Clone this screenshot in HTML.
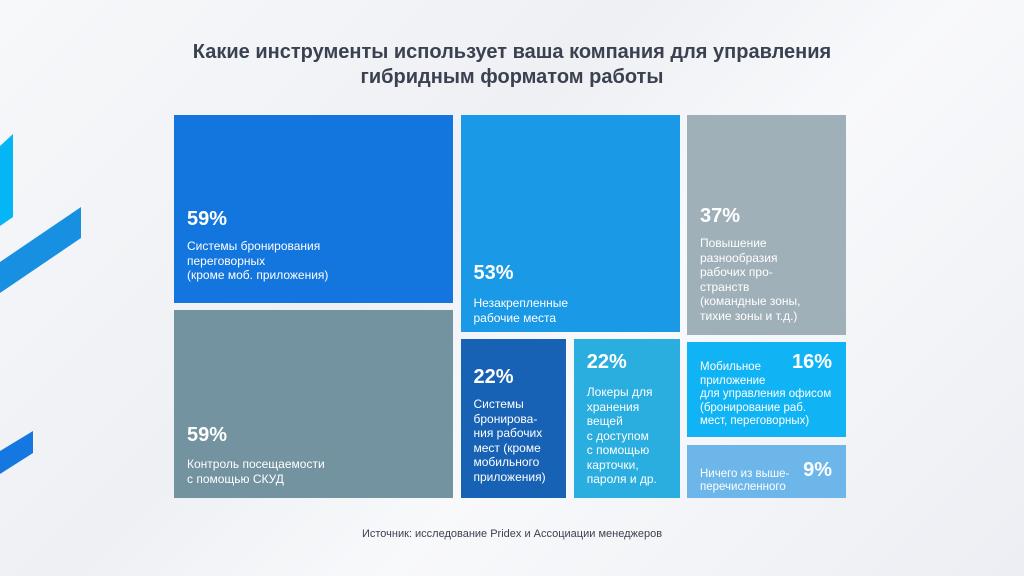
<!DOCTYPE html>
<html><head><meta charset="utf-8">
<style>
html,body{margin:0;padding:0;}
body{width:1024px;height:576px;overflow:hidden;position:relative;font-family:"Liberation Sans","Noto Sans CJK SC",sans-serif;background:linear-gradient(135deg,#f7f8fa 0%,#eef0f4 40%,#f8f9fb 60%,#eceef3 100%);}
.title{position:absolute;left:0;width:1024px;top:40px;text-align:center;font-size:20px;font-weight:bold;color:#3b4150;line-height:25px;}
.src{position:absolute;left:0;width:1024px;top:528px;text-align:center;font-size:11px;color:#3b4150;}
.cell{position:absolute;color:#fff;box-sizing:border-box;}
.pct{position:absolute;font-size:20px;font-weight:bold;}
.desc{position:absolute;font-size:12px;line-height:14.5px;}
</style></head><body>
<svg width="1024" height="576" style="position:absolute;left:0;top:0">
<polygon points="0,146 13,134 13,217 0,226" fill="#05b6f6"/>
<polygon points="0,262 81,207 81,238 0,293" fill="#1890e2"/>
<polygon points="0,451 33,431 33,453 0,474" fill="#1478e0"/>
</svg>
<div class="title">Какие инструменты использует ваша компания для управления<br>гибридным форматом работы</div>
<div id="tm"></div>
<div class="src">Источник: исследование Pridex и Ассоциации менеджеров</div>
<script>
const labels=["Системы бронирования<br>переговорных<br>(кроме моб. приложения)","Контроль посещаемости<br>с помощью СКУД","Незакрепленные<br>рабочие места","Повышение<br>разнообразия<br>рабочих про-<br>странств<br>(командные зоны,<br>тихие зоны и т.д.)","Системы<br>бронирова-<br>ния рабочих<br>мест (кроме<br>мобильного<br>приложения)","Локеры для<br>хранения<br>вещей<br>с доступом<br>с помощью<br>карточки,<br>пароля и др.","Мобильное<br>приложение<br>для управления офисом<br>(бронирование раб.<br>мест, переговорных)","Ничего из выше-<br>перечисленного"];
const values=[59,59,53,37,22,22,16,9];
const X0=174,Y0=115,H=383,G=7.5;
const colW=[279,219,159];
const ROW_FACTOR=0.88;
const colors=["#1375de","#7393a0","#1a99e6","#9fb0b9","#1862b5","#2aaee0","#10b4f4","#6cb6ea"];
const names=["cell-booking-rooms","cell-access-control","cell-hot-desks","cell-diverse-spaces","cell-desk-booking","cell-lockers","cell-mobile-app","cell-none"];
const txt=[[93,124],[114,147],[147,181],[90,121],[27,58],[12,46],[null,19],[null,23]];
const rects=[];
function colX(c){let x=X0;for(let i=0;i<c;i++)x+=colW[i]+G;return x;}
(function(){const x=colX(0),w=colW[0],avail=H-G,s=values[0]+values[1];
const h0=avail*values[0]/s;rects[0]=[x,Y0,w,h0];rects[1]=[x,Y0+h0+G,w,avail-h0];})();
(function(){const x=colX(1),w=colW[1],avail=H-G,bot=values[4]+values[5],s=values[2]+bot*ROW_FACTOR;
const h2=avail*values[2]/s;rects[2]=[x,Y0,w,h2];const y=Y0+h2+G,hb=avail-h2,aw=w-G;
const w4=aw*values[4]/bot;rects[4]=[x,y,w4,hb];rects[5]=[x+w4+G,y,aw-w4,hb];})();
(function(){const x=colX(2),w=colW[2],avail=H-2*G,s=values[3]+values[6]+values[7];
let y=Y0;[3,6,7].forEach(i=>{const h=avail*values[i]/s;rects[i]=[x,y,w,h];y+=h+G;});})();
const tm=document.getElementById('tm');
values.forEach((v,i)=>{
 const [x,y,w,h]=rects[i];
 const c=document.createElement('div');c.className='cell';
 
 
 c.style.cssText=`left:${x}px;top:${y}px;width:${w}px;height:${h}px;background:${colors[i]}`;
 const p=document.createElement('div');p.className='pct';p.textContent=v+'%';
 
 
 const d=document.createElement('div');d.className='desc';d.innerHTML=labels[i];
 
 
 if(txt[i][0]===null){
  p.style.right='14px';p.style.top=(i===6?9:14)+'px';
  d.style.left='13px';d.style.top=txt[i][1]+'px';d.style.fontSize='11.5px';d.style.lineHeight='13.5px';
 }else{
  p.style.left='13px';p.style.top=txt[i][0]+'px';
  d.style.left='13px';d.style.top=txt[i][1]+'px';
 }
 c.appendChild(p);c.appendChild(d);tm.appendChild(c);
});
</script>
</body></html>
